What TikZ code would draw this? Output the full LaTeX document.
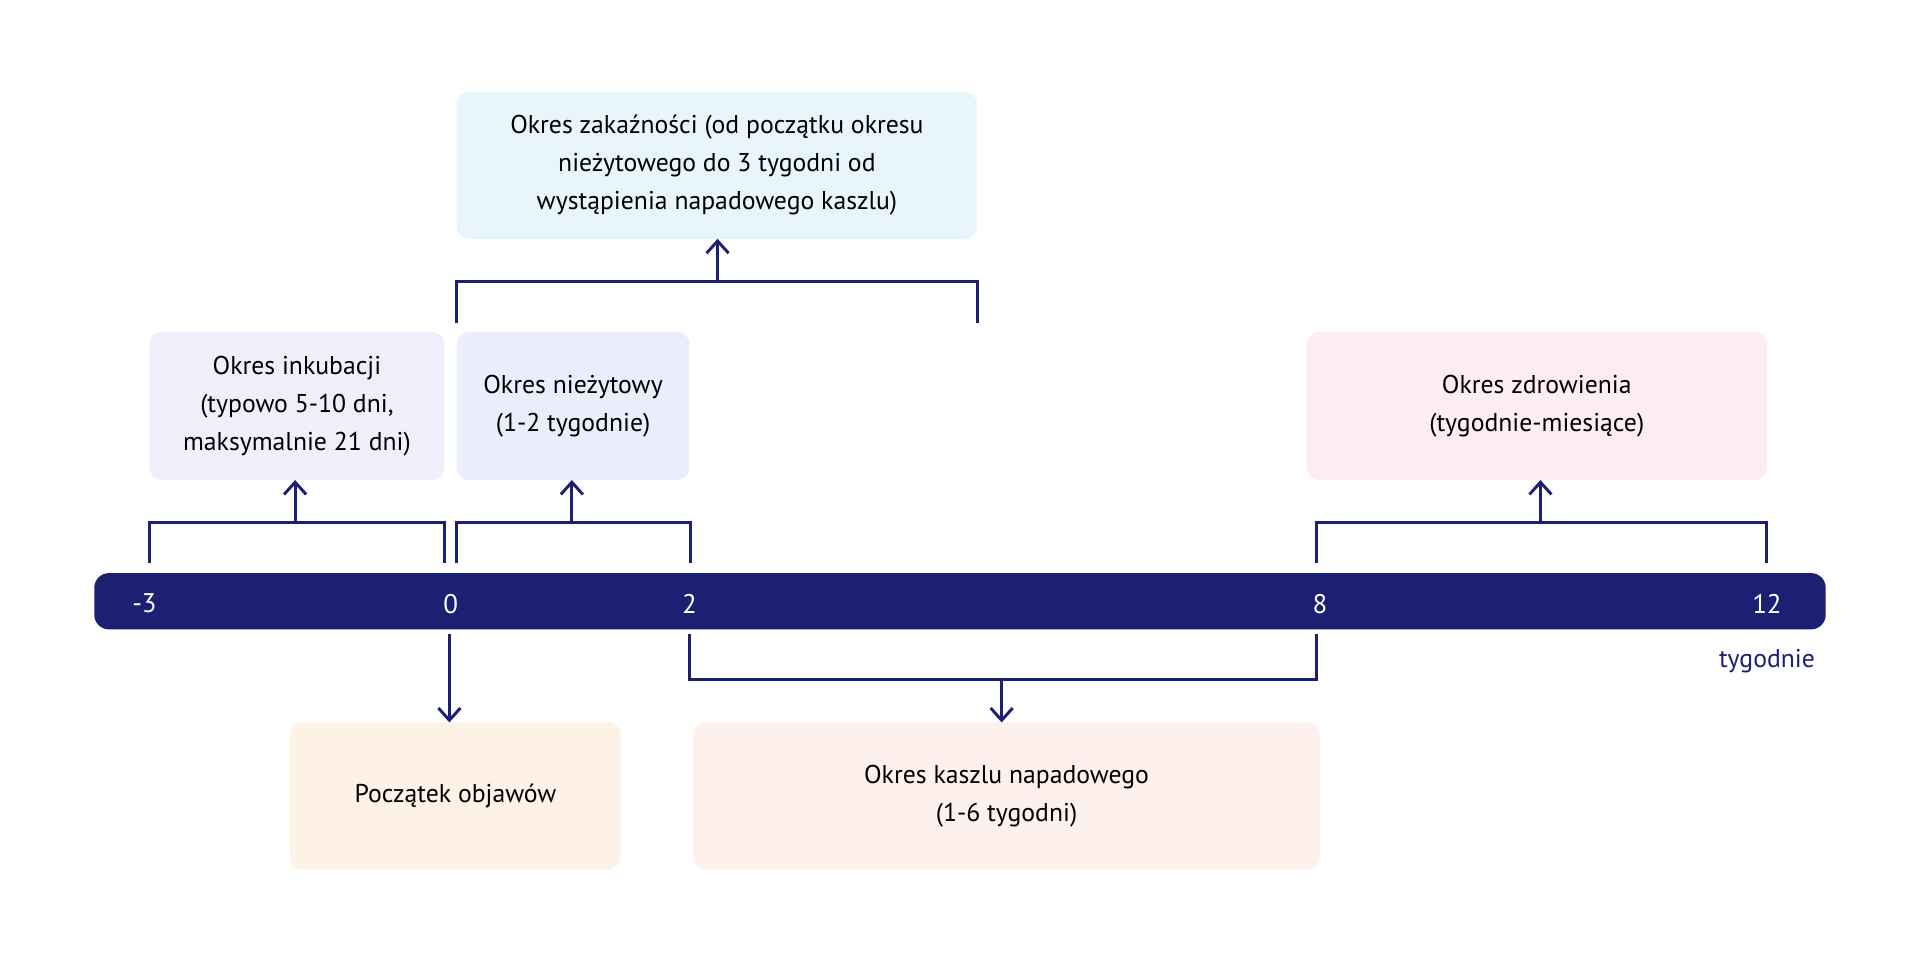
\documentclass[tikz,border=0pt]{standalone}
\usepackage{fontspec}
\setmainfont{PT Sans}
\usetikzlibrary{arrows.meta}
\definecolor{navy}{HTML}{1D1F73}
\definecolor{cZak}{HTML}{E8F5FB}
\definecolor{cInk}{HTML}{F1EEFC}
\definecolor{cNiez}{HTML}{EAEDFC}
\definecolor{cZdr}{HTML}{FDECF1}
\definecolor{cPocz}{HTML}{FEF1E5}
\definecolor{cKasz}{HTML}{FDF0ED}
\tikzset{x=0.5pt,y=-0.5pt,
 box/.style={rounded corners=5pt,draw=none},
 lbl/.style={align=center,font=\fontsize{10.5}{15.5}\selectfont,text=black},
 br/.style={draw=navy,line width=1.2pt},
 ar/.style={draw=navy,line width=1.2pt,-{Straight Barb[length=5pt,width=9pt]}},
 tick/.style={text=white,font=\fontsize{11}{13}\selectfont}}
\begin{document}
\begin{tikzpicture}
\useasboundingbox (0,0) rectangle (1568,786);
\fill[navy,rounded corners=6pt] (77,468) rectangle (1491,514);
\foreach \x/\t [count=\i] in {118/-3,368/0,563/2,1078/8,1443/12} \node[tick] (t\i) at (\x,493) {\t};
\node[text=navy,font=\fontsize{10.5}{13}\selectfont] (unit) at (1443,540) {tygodnie};
% boxes
\fill[box,fill=cZak] (373,75) rectangle (798,195);
\node[lbl] (zak) at (585.5,135) {Okres zakaźności (od początku okresu\\nieżytowego do 3 tygodni od\\wystąpienia napadowego kaszlu)};
\fill[box,fill=cInk] (122,271) rectangle (363,392);
\node[lbl] (ink) at (242.5,331.5) {Okres inkubacji\\(typowo 5-10 dni,\\maksymalnie 21 dni)};
\fill[box,fill=cNiez] (373,271) rectangle (563,392);
\node[lbl] (niez) at (468,331.5) {Okres nieżytowy\\(1-2 tygodnie)};
\fill[box,fill=cZdr] (1067,271) rectangle (1443,392);
\node[lbl] (zdr) at (1255,331.5) {Okres zdrowienia\\(tygodnie-miesiące)};
\fill[box,fill=cPocz] (237,590) rectangle (507,710);
\node[lbl] (pocz) at (372,650) {Początek objawów};
\fill[box,fill=cKasz] (566,590) rectangle (1078,710);
\node[lbl] (kasz) at (822,650) {Okres kaszlu napadowego\\(1-6 tygodni)};
% brackets
\draw[br] (122,460) -- (122,427) -- (363,427) -- (363,460);
\draw[ar] (241,427) -- (241,392);
\draw[br] (373,460) -- (373,427) -- (564,427) -- (564,460);
\draw[ar] (467,427) -- (467,392);
\draw[br] (1075,460) -- (1075,427) -- (1443,427) -- (1443,460);
\draw[ar] (1258,427) -- (1258,392);
\draw[br] (373,264) -- (373,230) -- (798,230) -- (798,264);
\draw[ar] (586,230) -- (586,195);
\draw[br] (563,518) -- (563,555) -- (1075,555) -- (1075,518);
\draw[ar] (818,555) -- (818,590);
\draw[ar] (367,518) -- (367,590);
\end{tikzpicture}
\end{document}
